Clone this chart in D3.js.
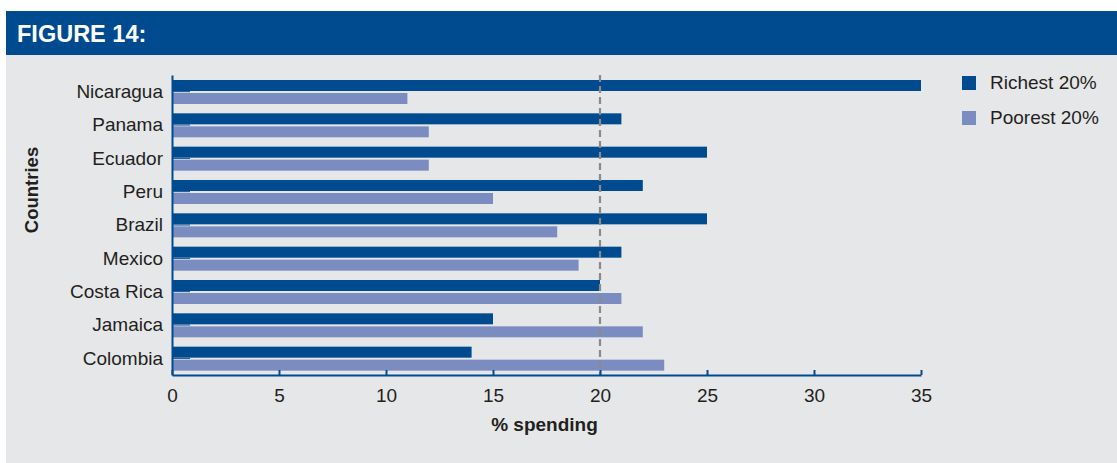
<!DOCTYPE html>
<html>
<head>
<meta charset="utf-8">
<script src="https://cdn.jsdelivr.net/npm/d3@7"></script>
<style>
  html, body { margin: 0; padding: 0; background: #ffffff; }
  svg { display: block; font-family: "Liberation Sans", Arial, Helvetica, sans-serif; }
</style>
</head>
<body>
<svg id="chart" width="1117" height="463"></svg>
<script>
// Household spending shares by income group
const countries = ["Nicaragua", "Panama", "Ecuador", "Peru", "Brazil", "Mexico", "Costa Rica", "Jamaica", "Colombia"];
const richest = [35, 21, 25, 22, 25, 21, 20, 15, 14];
const poorest = [11, 12, 12, 15, 18, 19, 21, 22, 23];
const seriesNames = ["Richest 20%", "Poorest 20%"];
const xTicks = [0, 5, 10, 15, 20, 25, 30, 35];
const referenceValue = 20;

const colors = { rich: "#004a8f", poor: "#7b8dc0", text: "#231f20" };

const svg = d3.select("#chart");

// Panel and header banner
svg.append("rect").attr("x", 6).attr("y", 55).attr("width", 1111).attr("height", 408).attr("fill", "#e6e7e9");
svg.append("rect").attr("x", 6).attr("y", 11).attr("width", 1111).attr("height", 44).attr("fill", "#004a8f");
svg.append("text").attr("x", 17).attr("y", 42)
  .attr("fill", "#ffffff").attr("font-weight", "bold").attr("font-size", 23.5)
  .text("FIGURE 14:");

const plot = { left: 172, right: 921, top: 75, bottom: 375 };

const x = d3.scaleLinear().domain([0, 35]).range([plot.left, plot.right]);
const y = d3.scaleBand().domain(countries).range([plot.top, plot.bottom]).paddingInner(0).paddingOuter(0);
const ySub = d3.scaleBand().domain(["rich", "poor"]).range([5, 29]).paddingInner(2 / 13).paddingOuter(0);

const rows = countries.map((c, i) => ({ country: c, rich: richest[i], poor: poorest[i] }));

const g = svg.append("g");

// Bars
["rich", "poor"].forEach(key => {
  g.selectAll("rect.bar-" + key)
    .data(rows)
    .join("rect")
    .attr("class", "bar-" + key)
    .attr("x", x(0))
    .attr("y", d => y(d.country) + ySub(key))
    .attr("width", d => x(d[key]) - x(0))
    .attr("height", ySub.bandwidth())
    .attr("fill", colors[key]);
});

// Reference line at 20%
g.append("line")
  .attr("x1", x(referenceValue)).attr("x2", x(referenceValue))
  .attr("y1", plot.top).attr("y2", plot.bottom)
  .attr("stroke", "#8a8a8a").attr("stroke-width", 2.2)
  .attr("stroke-dasharray", "7,4");

// X axis
const xAxis = d3.axisBottom(x).tickValues(xTicks).tickSize(-5).tickSizeOuter(0).tickPadding(0).tickFormat(d3.format("d"));
const xg = svg.append("g").attr("transform", `translate(0,${plot.bottom})`).call(xAxis);
xg.select(".domain").attr("stroke", colors.rich).attr("stroke-width", 2);
xg.selectAll(".tick line").attr("stroke", colors.rich).attr("stroke-width", 2);
xg.selectAll(".tick text")
  .attr("y", 27).attr("dy", null)
  .attr("font-size", 19).attr("fill", colors.text)
  .attr("font-family", "Liberation Sans, Arial, Helvetica, sans-serif");

// Y axis
const yAxis = d3.axisLeft(y).tickSize(-18).tickSizeOuter(0).tickPadding(0);
const yg = svg.append("g").attr("transform", `translate(${plot.left},0)`).call(yAxis);
yg.select(".domain").attr("stroke", colors.rich).attr("stroke-width", 2);
yg.selectAll(".tick line").attr("stroke", colors.rich).attr("stroke-width", 1);
yg.selectAll(".tick text")
  .attr("x", -9).attr("dy", "0.33em")
  .attr("font-size", 19).attr("fill", colors.text)
  .attr("font-family", "Liberation Sans, Arial, Helvetica, sans-serif");

// Axis titles
svg.append("text")
  .attr("x", (plot.left + plot.right) / 2 - 2).attr("y", 431)
  .attr("text-anchor", "middle").attr("font-weight", "bold").attr("font-size", 19)
  .attr("fill", colors.text).text("% spending");

svg.append("text")
  .attr("transform", "translate(38,190) rotate(-90)")
  .attr("text-anchor", "middle").attr("font-weight", "bold").attr("font-size", 18.5)
  .attr("fill", colors.text).text("Countries");

// Legend
const legend = svg.append("g").attr("transform", "translate(962,76)");
seriesNames.forEach((name, i) => {
  const row = legend.append("g").attr("transform", `translate(0,${i * 35})`);
  row.append("rect").attr("width", 14).attr("height", 14).attr("fill", i === 0 ? colors.rich : colors.poor);
  row.append("text").attr("x", 28).attr("y", 12.5)
    .attr("font-size", 19).attr("fill", colors.text).text(name);
});
</script>
</body>
</html>
